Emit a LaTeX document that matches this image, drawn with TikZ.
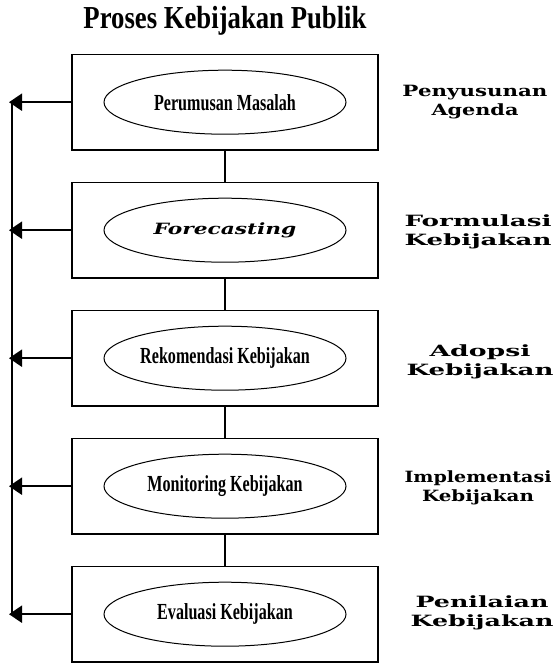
\documentclass[tikz,border=0pt]{standalone}
\usepackage{fontspec}
\setmainfont{Liberation Serif}
\newfontfamily\condfont[FakeStretch=0.7]{Liberation Serif}
\newfontfamily\titlefont[FakeStretch=0.835]{Liberation Serif}
\newfontfamily\widefont[FakeStretch=1.4]{DejaVu Serif}
\newcommand{\wword}[2]{\resizebox{#1pt}{\height}{#2}}
\usetikzlibrary{shapes.geometric, positioning, arrows.meta}

\begin{document}
\begin{tikzpicture}[
    x=1pt, y=-1pt,
    stage/.style={rectangle, draw, line width=1.3pt, minimum width=306pt, minimum height=95.7pt},
    step oval/.style={ellipse, draw, line width=1pt, minimum width=242pt, minimum height=64pt,
                     inner sep=0pt, font=\condfont\bfseries\fontsize{23}{25}\selectfont},
    phase/.style={align=center, font=\widefont\bfseries\fontsize{15.5}{18.4}\selectfont},
    feedback/.style={line width=2.2pt, -{Triangle[length=13pt,width=17pt]}},
    link/.style={line width=1.1pt}
]
    \useasboundingbox (0,0) rectangle (556,663);

    % --- Title ---
    \node[font=\titlefont\bfseries\fontsize{32}{34}\selectfont, anchor=base] (title) at (225,29) {Proses Kebijakan Publik};

    % --- Stages ---
    \node[stage] (b1) at (225,102.2) {};
    \node[stage] (b2) at (225,230.2) {};
    \node[stage] (b3) at (225,358.2) {};
    \node[stage] (b4) at (225,486.2) {};
    \node[stage] (b5) at (225,614.2) {};

    \node[step oval] (e1) at (b1) {Perumusan Masalah};
    \node[step oval, font=\widefont\bfseries\itshape\fontsize{15.5}{18}\selectfont] (e2) at (b2) {Forecasting};
    \node[step oval] (e3) at (b3) {Rekomendasi Kebijakan};
    \node[step oval] (e4) at (b4) {Monitoring Kebijakan};
    \node[step oval] (e5) at (b5) {Evaluasi Kebijakan};

    % --- Phase labels ---
    \node[phase] (p1) at (475,102.2) {\wword{145}{Penyusunan}\\\wword{87}{Agenda}};
    \node[phase] (p2) at (478,232.0) {\wword{147}{Formulasi}\\\wword{147}{Kebijakan}};
    \node[phase] (p3) at (480,362.0) {\wword{101}{Adopsi}\\\wword{147}{Kebijakan}};
    \node[phase] (p4) at (478,488.0) {\wword{147}{Implementasi}\\\wword{112}{Kebijakan}};
    \node[phase] (p5) at (482,613.0) {\wword{133}{Penilaian}\\\wword{143}{Kebijakan}};

    % --- Links between stages ---
    \draw[link] (b1.south) -- (b2.north);
    \draw[link] (b2.south) -- (b3.north);
    \draw[link] (b3.south) -- (b4.north);
    \draw[link] (b4.south) -- (b5.north);

    % --- Feedback line ---
    \coordinate (v1) at (12,102.2);
    \coordinate (v5) at (12,614.2);
    \draw[line width=1.3pt] (v1) -- (v5);
    \coordinate (t1) at (9,102.2);
    \coordinate (t2) at (9,230.2);
    \coordinate (t3) at (9,358.2);
    \coordinate (t4) at (9,486.2);
    \coordinate (t5) at (9,614.2);
    \draw[feedback] (b1.west) -- (t1);
    \draw[feedback] (b2.west) -- (t2);
    \draw[feedback] (b3.west) -- (t3);
    \draw[feedback] (b4.west) -- (t4);
    \draw[feedback] (b5.west) -- (t5);
\end{tikzpicture}
\end{document}
